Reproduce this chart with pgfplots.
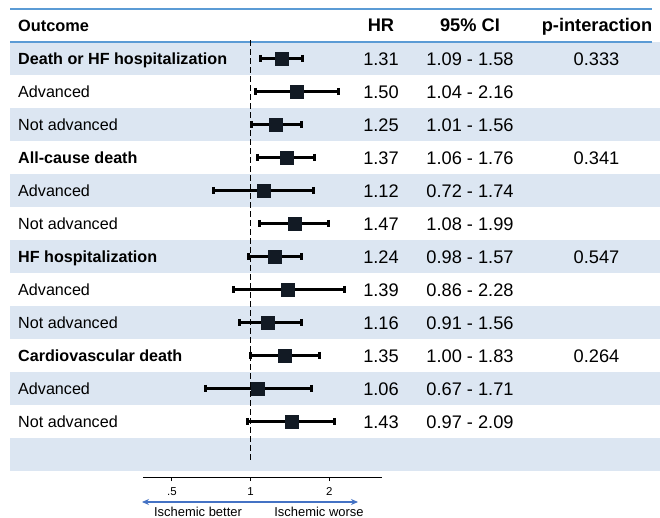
\documentclass[border=0pt]{standalone}
\usepackage{fontspec}
\setmainfont{Liberation Sans}
\usepackage{pgfplots}
\pgfplotsset{compat=1.18}
\usetikzlibrary{arrows.meta}
\definecolor{band}{HTML}{DCE6F2}
\definecolor{rulec}{HTML}{5B9BD5}
\definecolor{arrowblue}{HTML}{4472C4}
\definecolor{sq}{HTML}{121A24}
\newcommand\labfont{\fontsize{16.2}{19}\selectfont}
\newcommand\numfont{\fontsize{18.3}{21}\selectfont}
\newcommand\trow[6]{%
  \pgfmathsetmacro\yc{58.5+33*(#1-1)}%
  \node[anchor=base west,inner sep=0,font=\labfont#2] at (18,\yc+5.5) {#3};
  \node[anchor=base,inner sep=0,font=\numfont] at (381,\yc+6.8) {#4};
  \node[anchor=base,inner sep=0,font=\numfont] at (470,\yc+6.8) {#5};
  \node[anchor=base,inner sep=0,font=\numfont] at (596.5,\yc+6.8) {#6};
}
\begin{document}
\begin{tikzpicture}
\useasboundingbox (0,0) rectangle (660bp,-518bp);
\clip (0,0) rectangle (660bp,-518bp);
\begin{scope}[x=1bp,y=-1bp]
\fill[white] (0,0) rectangle (660,518);
\foreach \k in {1,3,...,13} \fill[band] (10,{42+33*(\k-1)}) rectangle (660,{42+33*\k});
\draw[rulec, line width=1.3bp] (10,9) -- (652,9);
\draw[rulec, line width=1.3bp] (10,42) -- (652,42);
\node[anchor=base west,inner sep=0,font=\fontsize{16.4}{19}\selectfont\bfseries] at (18,31.5) {Outcome};
\node[anchor=base,inner sep=0,font=\fontsize{18.3}{21}\selectfont\bfseries] at (381,31.5) {HR};
\node[anchor=base,inner sep=0,font=\fontsize{18.3}{21}\selectfont\bfseries] at (470,31.5) {95\% CI};
\node[anchor=base,inner sep=0,font=\fontsize{18.3}{21}\selectfont\bfseries] at (597,31.5) {p-interaction};
\trow{1}{\bfseries}{Death or HF hospitalization}{1.31}{1.09 - 1.58}{0.333}
\trow{2}{}{Advanced}{1.50}{1.04 - 2.16}{}
\trow{3}{}{Not advanced}{1.25}{1.01 - 1.56}{}
\trow{4}{\bfseries}{All-cause death}{1.37}{1.06 - 1.76}{0.341}
\trow{5}{}{Advanced}{1.12}{0.72 - 1.74}{}
\trow{6}{}{Not advanced}{1.47}{1.08 - 1.99}{}
\trow{7}{\bfseries}{HF hospitalization}{1.24}{0.98 - 1.57}{0.547}
\trow{8}{}{Advanced}{1.39}{0.86 - 2.28}{}
\trow{9}{}{Not advanced}{1.16}{0.91 - 1.56}{}
\trow{10}{\bfseries}{Cardiovascular death}{1.35}{1.00 - 1.83}{0.264}
\trow{11}{}{Advanced}{1.06}{0.67 - 1.71}{}
\trow{12}{}{Not advanced}{1.43}{0.97 - 2.09}{}
\draw[arrowblue, line width=1.4bp, {Stealth[length=7bp,width=6bp]}-{Stealth[length=7bp,width=6bp]}] (142,502) -- (358,502);
\node[anchor=base,inner sep=0,font=\fontsize{13}{15}\selectfont] at (198,516) {Ischemic better};
\node[anchor=base,inner sep=0,font=\fontsize{13}{15}\selectfont] at (319,516) {Ischemic worse};
\end{scope}
\begin{axis}[
  at={(143bp,-477bp)}, anchor=south west, scale only axis,
  width=239bp, height=435bp,
  xmode=log, log basis x=2,
  xmin=0.3876, xmax=3.178, ymin=-13.682, ymax=-0.5,
  axis x line*=bottom, axis y line=none,
  x axis line style={-, line width=0.9bp, black},
  xtick={0.5,1,2}, xticklabels={.5,1,2},
  tick align=outside, major tick length=4bp,
  tick style={black, line width=0.9bp},
  ytick=\empty, clip=false,
  xticklabel style={font=\fontsize{11.5}{13}\selectfont, anchor=base, yshift=-14bp, inner sep=0},
]
\addplot[no marks, black, line width=0.9bp, dash pattern=on 6bp off 3bp] coordinates {(1,-0.45) (1,-13.25)};
\pgfplotsset{ci/.style={black, line width=2.5bp, mark=|, mark size=3.6bp, mark options={line width=3bp}}}
\addplot[ci] coordinates {(1.09,-1) (1.58,-1)};
\addplot[ci] coordinates {(1.04,-2) (2.16,-2)};
\addplot[ci] coordinates {(1.01,-3) (1.56,-3)};
\addplot[ci] coordinates {(1.06,-4) (1.76,-4)};
\addplot[ci] coordinates {(0.72,-5) (1.74,-5)};
\addplot[ci] coordinates {(1.08,-6) (1.99,-6)};
\addplot[ci] coordinates {(0.98,-7) (1.57,-7)};
\addplot[ci] coordinates {(0.86,-8) (2.28,-8)};
\addplot[ci] coordinates {(0.91,-9) (1.56,-9)};
\addplot[ci] coordinates {(1.00,-10) (1.83,-10)};
\addplot[ci] coordinates {(0.67,-11) (1.71,-11)};
\addplot[ci] coordinates {(0.97,-12) (2.09,-12)};
\addplot[only marks, mark=square*, mark size=6.5bp, color=sq] coordinates {
 (1.31,-1) (1.50,-2) (1.25,-3) (1.37,-4) (1.12,-5) (1.47,-6)
 (1.24,-7) (1.39,-8) (1.16,-9) (1.35,-10) (1.06,-11) (1.43,-12)};
\end{axis}
\end{tikzpicture}
\end{document}
